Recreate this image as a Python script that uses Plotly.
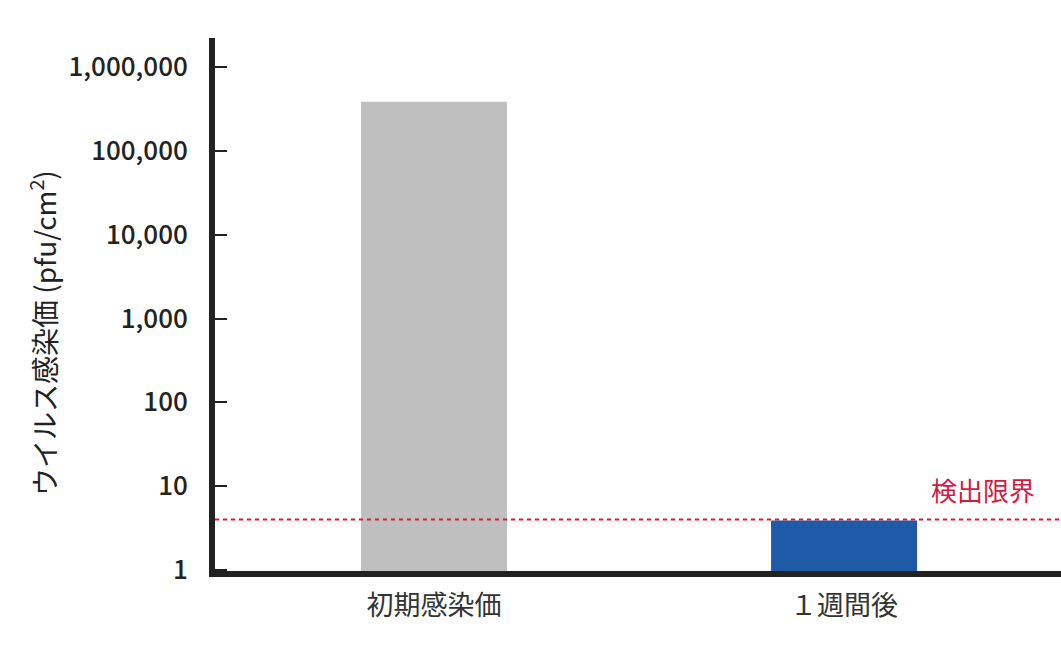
import plotly.graph_objects as go

# data
categories = ["初期感染価", "１週間後"]
values = [385000, 3.9]
bar_colors = ["#bfbfbf", "#1f5aa7"]
detection_limit = 4
tick_vals = [1, 10, 100, 1000, 10000, 100000, 1000000]
tick_text = ["1", "10", "100", "1,000", "10,000", "100,000", "1,000,000"]

FONT = "Noto Sans CJK JP"
DARK = "#222222"
RED = "#d6193f"

fig = go.Figure()
fig.add_trace(go.Bar(
    x=categories, y=values,
    marker=dict(color=bar_colors, line=dict(width=0)),
    width=0.356,
    hoverinfo="skip",
))

# detection limit line
fig.add_shape(
    type="line", xref="paper", yref="y",
    x0=0, x1=1, y0=detection_limit, y1=detection_limit,
    line=dict(color=RED, width=2, dash="4px,4px"),
)
fig.add_annotation(
    text="検出限界", xref="paper", yref="y",
    x=0.9716, y=0.602, xanchor="right", yanchor="bottom",
    yshift=10, showarrow=False,
    font=dict(family=FONT, size=26, color=RED),
)

# y axis title
fig.add_annotation(
    text="ウイルス感染価 (pfu/cm<sup>2</sup>)", xref="paper", yref="paper",
    x=-0.2045, y=0.4465, xanchor="center", yanchor="middle",
    textangle=-90, showarrow=False,
    font=dict(family=FONT, size=28, color=DARK),
)

fig.update_layout(
    width=1061, height=657,
    margin=dict(l=215, r=0, t=38, b=86),
    plot_bgcolor="white", paper_bgcolor="white",
    showlegend=False,
    font=dict(family=FONT, color=DARK),
)
fig.update_xaxes(
    range=[-0.534, 1.529],
    showline=True, linewidth=6, linecolor=DARK,
    showgrid=False, ticks="",
    tickfont=dict(family=FONT, size=27, color="#333333"),
    ticklabelstandoff=6,
)
fig.update_yaxes(
    type="log", range=[-0.012, 6.346],
    showline=True, linewidth=6, linecolor=DARK,
    showgrid=False, zeroline=False,
    ticks="inside", ticklen=12, tickwidth=2, tickcolor=DARK,
    tickvals=tick_vals, ticktext=tick_text,
    tickfont=dict(family=FONT, size=26, color=DARK, weight=500),
    ticklabelstandoff=16,
)

# drop the default page margin so the figure fills the window
fig.write_html(
    "out.html",
    config={"displayModeBar": False},
    post_script="document.body.style.margin='0';document.body.style.overflow='hidden';",
)
